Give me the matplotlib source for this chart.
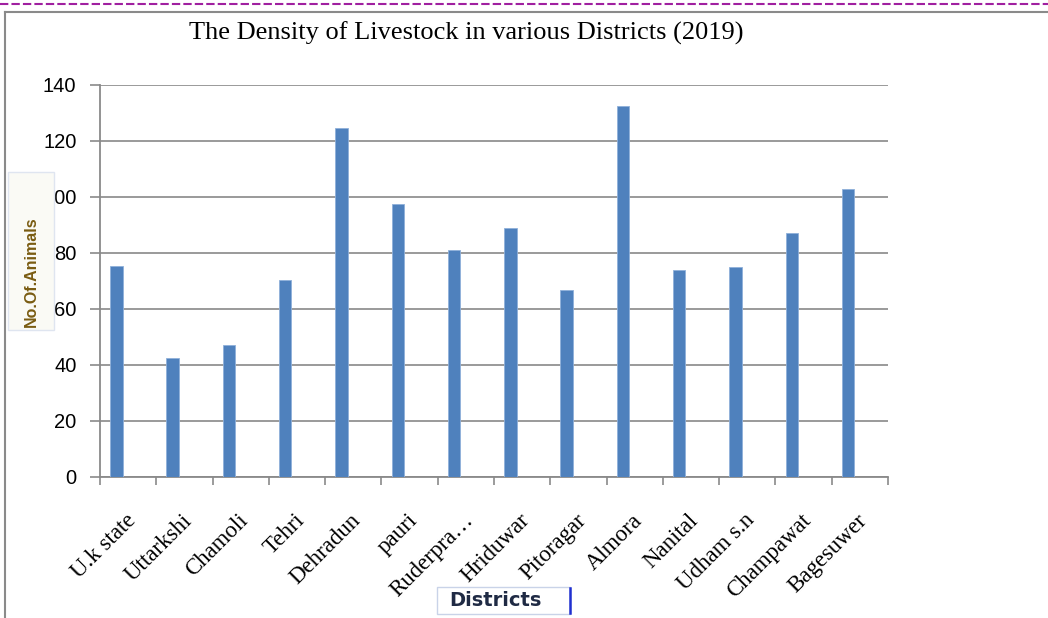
import matplotlib.pyplot as plt
import matplotlib.transforms as mtransforms
from matplotlib.lines import Line2D
from matplotlib.patches import Rectangle
import numpy as np

districts = ["U.k state", "Uttarkshi", "Chamoli", "Tehri", "Dehradun", "pauri",
             "Ruderpra\u2026", "Hriduwar", "Pitoragar", "Almora", "Nanital",
             "Udham s.n", "Champawat", "Bagesuwer"]
density = [75.5, 42.5, 47, 70.5, 124.5, 97.5, 81, 89, 66.8, 132.5, 74, 75, 87, 103]
yticks = [0, 20, 40, 60, 80, 100, 120, 140]

W, H = 1048, 618
fig = plt.figure(figsize=(W/100, H/100), dpi=100)
ax = fig.add_axes([100/W, 1-477/H, 788/W, 392/H])

x = np.arange(len(districts))
# bars sit left of the category centre (second, empty series in the original)
ax.bar(x - 0.21, density, width=0.22, color="#4f81bd", edgecolor="#8fb0da", linewidth=0.6, zorder=3)

ax.set_xlim(-0.5, len(districts) - 0.5)
ax.set_ylim(0, 140)
ax.set_yticks(yticks)
ax.set_yticklabels([str(v) for v in yticks], fontfamily="Liberation Sans", fontsize=14.5)
ax.yaxis.grid(True, color="#9a9a9a", linewidth=1.4, zorder=0)
ax.tick_params(axis="y", length=7, color="#8a8a8a", width=1.2, pad=10)

# x ticks at category boundaries, labels under the categories
ax.set_xticks(np.arange(len(districts) + 1) - 0.5)
ax.set_xticklabels([])
ax.tick_params(axis="x", length=6, color="#8a8a8a", width=1.2)
offset = mtransforms.ScaledTranslation(-3/100, -33/100, fig.dpi_scale_trans)
lab_tr = mtransforms.blended_transform_factory(ax.transData, ax.transAxes) + offset
for i, name in enumerate(districts):
    ax.text(i, 0, name, rotation=45, ha="right", va="top", rotation_mode="anchor",
            fontfamily="Liberation Serif", fontsize=16.5, transform=lab_tr)

for s in ["top", "right"]:
    ax.spines[s].set_visible(False)
for s in ["left", "bottom"]:
    ax.spines[s].set_color("#8a8a8a")
    ax.spines[s].set_linewidth(1.3)

fig.text(466/W, 1-33/H, "The Density of Livestock in various Districts (2019)",
         ha="center", va="center", fontfamily="Liberation Serif", fontsize=19)

# y axis label box (covers part of the "100" tick label, as in the original)
fig.add_artist(Rectangle((8/W, 1-330/H), 46/W, 158/H, transform=fig.transFigure,
                         facecolor="#fafaf5", edgecolor="#dfe5f0", linewidth=1, zorder=5))
fig.text(31/W, 1-272/H, "No.Of.Animals", rotation=90, ha="center", va="center",
         fontfamily="Liberation Sans", fontsize=11.5, fontweight="bold", color="#7a5c12", zorder=6)

# x axis label box
fig.add_artist(Rectangle((437/W, 1-614/H), 133/W, 27/H, transform=fig.transFigure,
                         facecolor="white", edgecolor="#c9d3e8", linewidth=1, zorder=5))
fig.add_artist(Line2D([570/W, 570/W], [1-613/H, 1-588/H], color="#2030d0", linewidth=1.8, zorder=6))
fig.text(495/W, 1-600/H, "Districts", ha="center", va="center",
         fontfamily="DejaVu Sans", fontsize=14, fontweight="bold", color="#1f2a44", zorder=6)

# page decorations
fig.add_artist(Line2D([0, 1], [1-4/H, 1-4/H], color="#a020a0", linewidth=1.5, linestyle=(0, (4, 1.5))))
fig.add_artist(Line2D([5/W, 1], [1-12/H, 1-12/H], color="#8a8a8a", linewidth=1.5))
fig.add_artist(Line2D([5/W, 5/W], [0, 1-12/H], color="#8a8a8a", linewidth=1.5))

fig.savefig("out.png", dpi=100)
